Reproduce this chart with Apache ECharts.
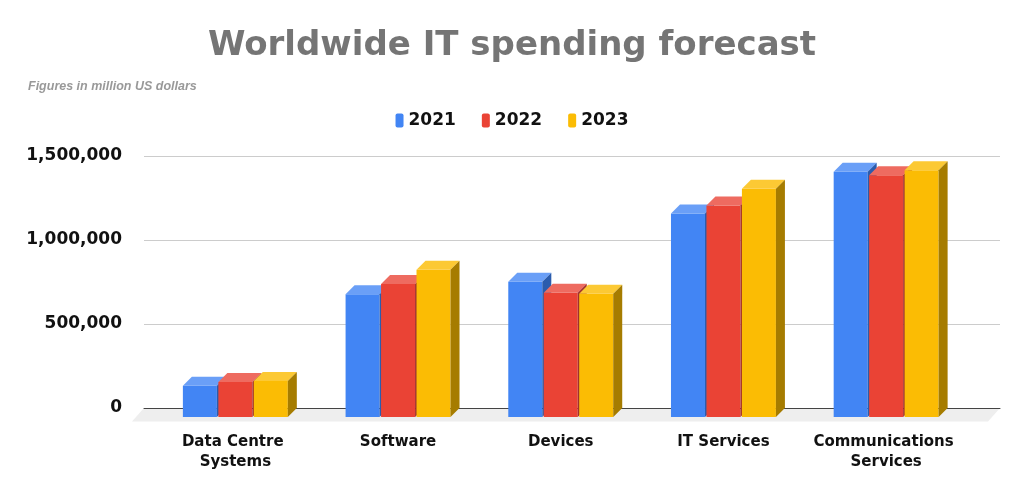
<!DOCTYPE html>
<html>
<head>
<meta charset="utf-8">
<script src="https://cdn.jsdelivr.net/npm/echarts@6/dist/echarts.min.js"></script>
<style>
  html, body { margin: 0; padding: 0; background: #fff; }
  #chart { width: 1024px; height: 494px; }
</style>
</head>
<body>
<div id="chart"></div>
<script>
var categories = ['Data Centre Systems', 'Software', 'Devices', 'IT Services', 'Communications Services'];
var years = ['2021', '2022', '2023'];
var values2021 = [186000, 729000, 803000, 1208000, 1457000];
var values2022 = [208000, 790000, 738000, 1256000, 1435000];
var values2023 = [214000, 875000, 732000, 1355000, 1466000];
var yTicks = [0, 500000, 1000000, 1500000];

var faceColors = [
  { front: '#4285f4', top: '#6a9ff7', side: '#2b5cad' },
  { front: '#ea4335', top: '#ee6b60', side: '#a3302a' },
  { front: '#fbbc04', top: '#fcc934', side: '#a67c00' }
];
var depth = 9;

function barRenderer(idx) {
  return function (params, api) {
    var cat = api.value(0);
    var val = api.value(1);
    var bandW = api.size([1, 0])[0];
    var barW = bandW * 0.209;
    var step = bandW * 0.218;
    var base = api.coord([cat, 0]);
    var topPt = api.coord([cat, val]);
    var x0 = base[0] + (idx - 1) * step - barW / 2;
    var x1 = x0 + barW;
    var yb = base[1];
    var yt = topPt[1];
    var c = faceColors[idx];
    return {
      type: 'group',
      children: [
        { type: 'rect', shape: { x: x0, y: yt, width: barW, height: yb - yt }, style: { fill: c.front } },
        { type: 'polygon', shape: { points: [[x0, yt], [x0 + depth, yt - depth], [x1 + depth, yt - depth], [x1, yt]] }, style: { fill: c.top } },
        { type: 'polygon', shape: { points: [[x1, yt], [x1 + depth, yt - depth], [x1 + depth, yb - depth], [x1, yb]] }, style: { fill: c.side } }
      ]
    };
  };
}

function floorRenderer(params, api) {
  var cs = params.coordSys;
  var yb = cs.y + cs.height;
  return {
    type: 'polygon',
    shape: { points: [[cs.x, yb], [cs.x + cs.width, yb], [cs.x + cs.width - 12, yb + 13.5], [cs.x - 12, yb + 13.5]] },
    style: { fill: '#eeeeee' }
  };
}

function pairs(arr) {
  return arr.map(function (v, i) { return [i, v]; });
}

var chart = echarts.init(document.getElementById('chart'));
var seriesData = [values2021, values2022, values2023];

var option = {
  backgroundColor: '#ffffff',
  animation: false,
  title: [{
    text: 'Worldwide IT spending forecast',
    left: 'center',
    top: 24,
    textStyle: { fontFamily: 'DejaVu Sans', fontWeight: 'bold', fontSize: 34, color: '#757575' }
  }, {
    text: 'Figures in million US dollars',
    left: 23,
    top: 75,
    textStyle: { fontFamily: 'Liberation Sans', fontStyle: 'italic', fontWeight: 'bold', fontSize: 12.5, color: '#999999' }
  }],
  legend: {
    top: 107,
    left: 'center',
    icon: 'roundRect',
    itemWidth: 8,
    itemHeight: 14,
    itemGap: 26,
    textStyle: { fontFamily: 'DejaVu Sans', fontWeight: 'bold', fontSize: 17, color: '#111' },
    data: years
  },
  grid: [
    { left: 144, right: 24, top: 156, bottom: 86 },
    { left: 154, right: 56.5, top: 164.4, bottom: 77 }
  ],
  xAxis: [{
    type: 'category', gridIndex: 0, data: categories, z: 1,
    axisLine: { lineStyle: { color: '#444', width: 1 } },
    axisTick: { show: false }, axisLabel: { show: false }
  }, {
    type: 'category', gridIndex: 1, data: categories,
    axisLine: { show: false }, axisTick: { show: false },
    axisLabel: {
      interval: 0, margin: 15, width: 160, overflow: 'break', lineHeight: 20,
      fontFamily: 'DejaVu Sans', fontWeight: 'bold', fontSize: 15, color: '#111'
    }
  }],
  yAxis: [{
    type: 'value', gridIndex: 0, min: 0, max: yTicks[yTicks.length - 1], interval: 500000,
    axisLine: { show: false }, axisTick: { show: false },
    splitLine: { lineStyle: { color: '#cccccc' } },
    axisLabel: {
      margin: 22, fontFamily: 'DejaVu Sans', fontWeight: 'bold', fontSize: 17, color: '#111',
      formatter: function (v) { return v.toLocaleString('en-US'); }
    }
  }, {
    type: 'value', gridIndex: 1, min: 0, max: yTicks[yTicks.length - 1],
    show: false, splitLine: { show: false }
  }],
  series: [{
    type: 'custom', name: 'floor', xAxisIndex: 0, yAxisIndex: 0, z: 0, silent: true,
    renderItem: floorRenderer, data: [[0, 0]]
  }].concat(years.map(function (y, idx) {
    return {
      type: 'custom',
      name: y,
      xAxisIndex: 1,
      yAxisIndex: 1,
      z: 3,
      itemStyle: { color: faceColors[idx].front },
      renderItem: barRenderer(idx),
      encode: { x: 0, y: 1 },
      data: pairs(seriesData[idx])
    };
  }))
};

chart.setOption(option);
</script>
</body>
</html>
